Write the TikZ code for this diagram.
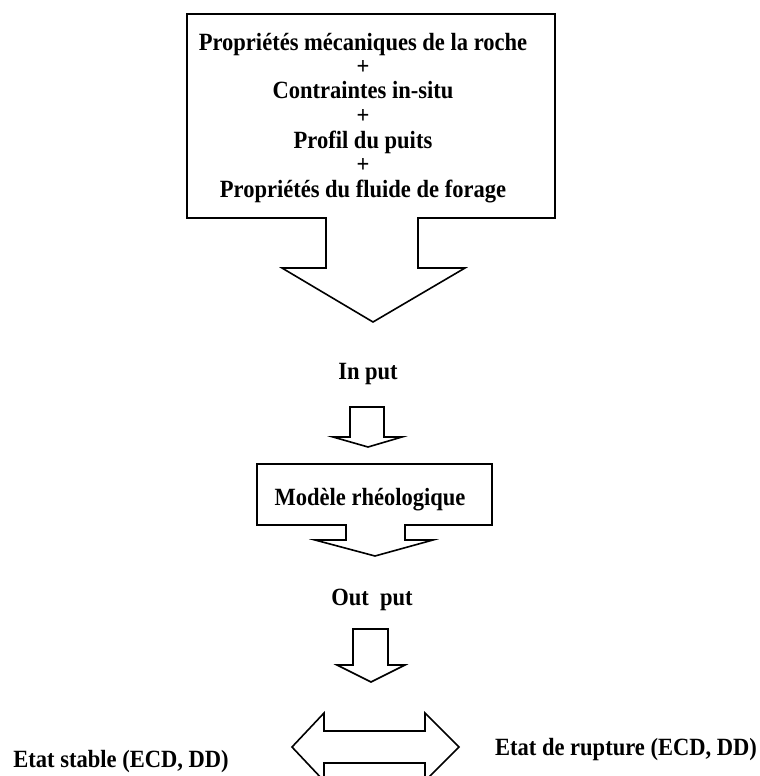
\documentclass[tikz,border=0pt]{standalone}
\usepackage{graphicx}
\usepackage{fontspec}
\setmainfont{Liberation Serif}
\newcommand{\tallt}[1]{\scalebox{1}[1.1]{#1}}
\begin{document}
\begin{tikzpicture}[x=0.75pt,y=-0.75pt,
  outline/.style={draw=black,line width=1.2pt,line join=miter},
  lbl/.style={font=\bfseries\fontsize{16.9}{20}\selectfont,inner sep=0pt,anchor=base}]
\useasboundingbox (0,0) rectangle (760,776);
\clip (0,0) rectangle (760,776);
% top box with its big arrow
\draw[outline] (187,14) -- (555,14) -- (555,218) -- (418,218) -- (418,268) -- (465,268)
  -- (373,322) -- (282,268) -- (326,268) -- (326,218) -- (187,218) -- cycle;
\node[lbl] (l1) at (363,50) {\tallt{Propriétés mécaniques de la roche}};
\node[lbl] (p1) at (363,74) {\tallt{+}};
\node[lbl] (l2) at (363,98) {\tallt{Contraintes in-situ}};
\node[lbl] (p2) at (363,123) {\tallt{+}};
\node[lbl] (l3) at (363,148) {\tallt{Profil du puits}};
\node[lbl] (p3) at (363,172) {\tallt{+}};
\node[lbl] (l4) at (363,197) {\tallt{Propriétés du fluide de forage}};
% In put
\node[lbl] (in) at (368,379) {\tallt{In put}};
\draw[outline] (350,407) -- (384,407) -- (384,437) -- (402,437) -- (368,447)
  -- (333,437) -- (350,437) -- cycle;
% model box with arrow
\draw[outline] (257,464) -- (492,464) -- (492,525) -- (405,525) -- (405,540) -- (433,540)
  -- (375,556) -- (315,540) -- (346,540) -- (346,525) -- (257,525) -- cycle;
\node[lbl] (model) at (370,505) {\tallt{Modèle rhéologique}};
% Out put
\node[lbl] (out) at (372,605) {\tallt{Out\ \ put}};
\draw[outline] (353,629) -- (388,629) -- (388,665) -- (405,665) -- (371,682)
  -- (337,665) -- (353,665) -- cycle;
% double arrow
\draw[outline] (292,747) -- (324,713) -- (324,731) -- (425,731) -- (425,713) -- (459,747)
  -- (425,781) -- (425,763) -- (324,763) -- (324,781) -- cycle;
\node[lbl] (stable) at (121,767) {\tallt{Etat stable (ECD, DD)}};
\node[lbl] (rupture) at (626,755) {\tallt{Etat de rupture (ECD, DD)}};
\end{tikzpicture}
\end{document}
